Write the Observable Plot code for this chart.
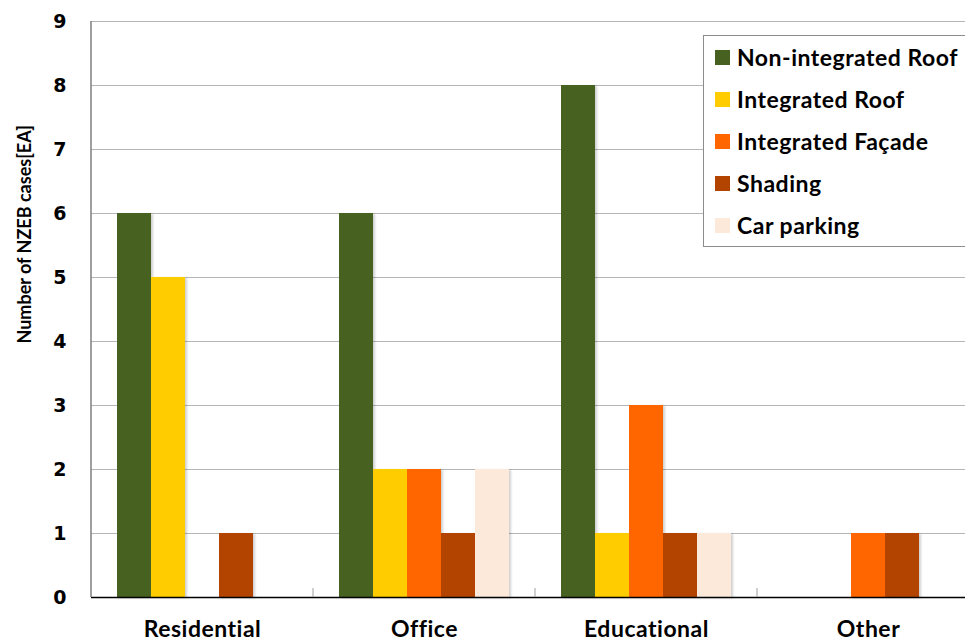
<!DOCTYPE html>
<html>
<head>
<meta charset="utf-8">
<script src="https://cdn.jsdelivr.net/npm/d3@7"></script>
<script src="https://cdn.jsdelivr.net/npm/@observablehq/plot@0.6"></script>
<style>
html, body { margin: 0; padding: 0; overflow: hidden; background: #fff; width: 965px; height: 642px; }
#wrap { position: relative; width: 965px; height: 642px; overflow: hidden; }
#wrap svg { max-width: none !important; display: block; }
#legend { position: absolute; left: 703px; top: 35px; width: 280px; border: 1px solid #8c8c8c; background: #fff; box-sizing: border-box; }
.item { display: flex; align-items: center; height: 42px; font-family: Lato, sans-serif; font-weight: bold; font-size: 23px; letter-spacing: 0.5px; color: #000; }
.sw { width: 15px; height: 15px; margin-left: 11px; margin-right: 7px; }
.bars rect { filter: drop-shadow(2px 1px 1px rgba(0,0,0,0.18)); }
.fxlab text { letter-spacing: 0.5px; }
</style>
</head>
<body>
<div id="wrap"></div>
<script>
const categories = ["Residential", "Office", "Educational", "Other"];
const series = ["Non-integrated Roof", "Integrated Roof", "Integrated Façade", "Shading", "Car parking"];
const colors = ["#476121", "#FFCC00", "#FF6600", "#B24400", "#FDE9D9"];
const residential = [6, 5, 0, 1, 0];
const office = [6, 2, 2, 1, 2];
const educational = [8, 1, 3, 1, 1];
const other = [0, 0, 1, 1, 0];
const yTicks = [0, 1, 2, 3, 4, 5, 6, 7, 8, 9];
const yLabel = "Number of NZEB cases[EA]";

const valuesByCategory = [residential, office, educational, other];
const rows = [];
categories.forEach((c, i) => {
  series.forEach((s, j) => {
    rows.push({category: c, series: s, value: valuesByCategory[i][j]});
  });
});

const plot = Plot.plot({
  width: 979,
  height: 642,
  marginLeft: 91,
  marginRight: 0,
  marginTop: 21,
  marginBottom: 45,
  style: {maxWidth: "none"},
  fx: {domain: categories, padding: 0, round: false, label: null},
  x: {domain: series, paddingInner: 0, paddingOuter: 0.765, round: false, axis: null},
  y: {domain: [0, 9], label: null, axis: null},
  color: {domain: series, range: colors},
  marks: [
    Plot.ruleY(yTicks, {stroke: "#b5b5b5", strokeWidth: 1}),
    Plot.barY(rows.filter(d => d.value > 0), {fx: "category", x: "series", y: "value", fill: "series", className: "bars"}),
    Plot.axisY({ticks: yTicks, tickSize: 0, tickPadding: 25, fontSize: 19, fontWeight: "bold", fontFamily: "DejaVu Sans", label: null}),
    Plot.axisFx({anchor: "bottom", tickSize: 0, tickPadding: 23, fontSize: 23, fontWeight: "bold", fontFamily: "Lato", label: null, className: "fxlab"}),
    Plot.text([{c: categories[0], t: yLabel}], {fx: "c", text: "t", frameAnchor: "left", textAnchor: "start", dx: -66, dy: 34, rotate: -90, fontSize: 18, fontWeight: "bold", fontFamily: "Lato", fill: "#000"}),
    Plot.ruleY([0], {stroke: "#000", strokeWidth: 1.5})
  ]
});
plot.style.maxWidth = "none";

document.getElementById("wrap").appendChild(plot);

// Left spine and category separator ticks, positioned via the plot's own scales
const fxs = plot.scale("fx");
const ys = plot.scale("y");
const svg = d3.select(plot);
const x0 = fxs.apply(categories[0]);
svg.append("line")
  .attr("x1", x0).attr("x2", x0)
  .attr("y1", ys.apply(0)).attr("y2", ys.apply(9))
  .attr("stroke", "#7f7f7f").attr("stroke-width", 1.5);
categories.slice(1).forEach(c => {
  const xc = fxs.apply(c);
  svg.append("line")
    .attr("x1", xc).attr("x2", xc)
    .attr("y1", ys.apply(0)).attr("y2", ys.apply(0) - 9)
    .attr("stroke", "#a0a0a0").attr("stroke-width", 1);
});

// Legend overlay built from the series and colors arrays
const legend = document.createElement("div");
legend.id = "legend";
series.forEach((s, i) => {
  const item = document.createElement("div");
  item.className = "item";
  const sw = document.createElement("span");
  sw.className = "sw";
  sw.style.background = colors[i];
  const t = document.createElement("span");
  t.textContent = s;
  item.appendChild(sw);
  item.appendChild(t);
  legend.appendChild(item);
});
document.getElementById("wrap").appendChild(legend);
</script>
</body>
</html>
